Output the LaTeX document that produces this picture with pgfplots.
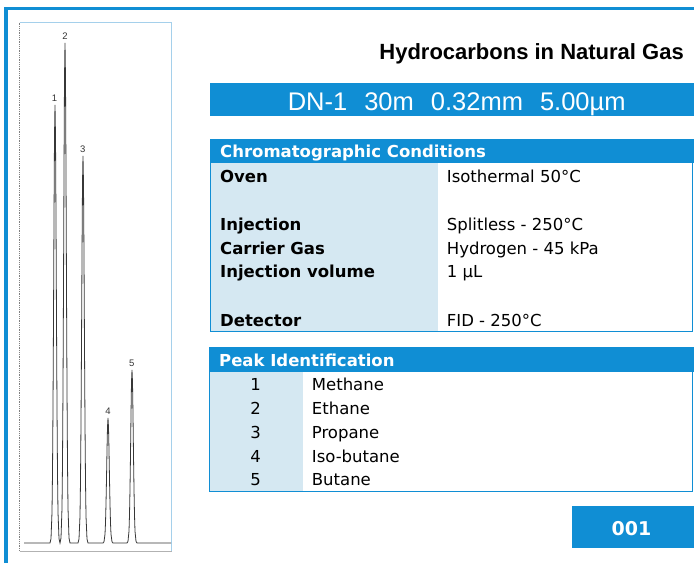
\documentclass[border=0pt]{standalone}
\usepackage{pgfplots}
\pgfplotsset{compat=1.18}
\usepackage{fontspec}
\setmainfont{DejaVu Sans}
\newfontfamily\lib{Liberation Sans}
\definecolor{mainblue}{RGB}{16,142,212}
\definecolor{lightcol}{RGB}{213,232,242}
\definecolor{lightline}{RGB}{165,208,235}
\definecolor{peakcol}{RGB}{55,55,55}
\newcommand{\fs}[1]{\fontsize{#1}{#1}\selectfont}
\begin{document}
\begin{tikzpicture}
\begin{scope}[x=1pt,y=-1pt]
\path[use as bounding box] (0,0) rectangle (694,563);
% outer frame
\fill[mainblue] (4,7) rectangle (694,10);
\fill[mainblue] (4,7) rectangle (7.5,563);
% chromatogram frame
\draw[lightline, line width=1pt] (19.5,22.5) -- (171.7,22.5) -- (171.7,551);
\draw[gray, densely dotted, line width=0.8pt] (19.5,22.5) -- (19.5,551);
\draw[gray!60, line width=1pt] (19.5,551) -- (171.7,551);
% title
\node[anchor=base east, inner sep=0, font=\lib\bfseries\fs{22}] at (684,59.3) {Hydrocarbons in Natural Gas};
% column band
\fill[mainblue] (210,82.7) rectangle (694,115.7);
\node[anchor=base, inner sep=0, text=white, font=\lib\fs{25.5}] at (456.7,110) {DN-1\hspace{17pt}30m\hspace{17pt}0.32mm\hspace{17pt}5.00µm};
% conditions table
\fill[mainblue] (210,139.3) rectangle (694,162.7);
\fill[lightcol] (210,162.7) rectangle (437.7,331);
\draw[mainblue, line width=1pt] (210,162.7) rectangle (692.7,331);
\node[anchor=base west, inner sep=0, text=white, font=\bfseries\fs{16.5}] at (220,157.7) {Chromatographic Conditions};
\begin{scope}[every node/.style={anchor=base west, inner sep=0, font=\fs{16.5}}]
\node[font=\bfseries\fs{16.5}] at (220,182.3) {Oven};
\node[font=\bfseries\fs{16.5}] at (220,230) {Injection};
\node[font=\bfseries\fs{16.5}] at (220,254) {Carrier Gas};
\node[font=\bfseries\fs{16.5}] at (220,277.7) {Injection volume};
\node[font=\bfseries\fs{16.5}] at (220,326) {Detector};
\node at (446.7,182.3) {Isothermal 50°C};
\node at (446.7,230) {Splitless - 250°C};
\node at (446.7,254) {Hydrogen - 45 kPa};
\node at (446.7,277.7) {1 µL};
\node at (446.7,326) {FID - 250°C};
\end{scope}
% peak table
\fill[mainblue] (209.3,347.3) rectangle (694,371.7);
\fill[lightcol] (209.3,371.7) rectangle (302.7,491);
\draw[mainblue, line width=1pt] (209.3,371.7) rectangle (692.7,491);
\node[anchor=base west, inner sep=0, text=white, font=\bfseries\fs{16.5}] at (219,366.7) {Peak Identification};
\begin{scope}[every node/.style={inner sep=0, font=\fs{16.5}}]
\node[anchor=base] at (255.7,390) {1};
\node[anchor=base] at (255.7,414) {2};
\node[anchor=base] at (255.7,438) {3};
\node[anchor=base] at (255.7,462) {4};
\node[anchor=base] at (255.7,485.7) {5};
\node[anchor=base west] at (311.7,390) {Methane};
\node[anchor=base west] at (311.7,414) {Ethane};
\node[anchor=base west] at (311.7,438) {Propane};
\node[anchor=base west] at (311.7,462) {Iso-butane};
\node[anchor=base west] at (311.7,485.7) {Butane};
\end{scope}
% code box
\fill[mainblue] (572,506) rectangle (694,547.7);
\node[anchor=base, inner sep=0, text=white, font=\bfseries\fs{19}] at (631.5,535) {001};
\end{scope}
\begin{axis}[at={(20pt,-551pt)}, anchor=south west, scale only axis,
  width=151.7pt, height=528.5pt, xmin=20, xmax=171.7, ymin=-8, ymax=520.5,
  axis line style={draw=none}, ticks=none, clip=false]
\addplot[peakcol, line width=0.8pt, mark=none] coordinates {
(24,0)(50,0)(51,4.4)(52,30.7)(52.5,70)(53,136)(53.5,223)(54,324)(54.5,407)(55,438)(55.5,407)(56,324)(56.5,223)(57,136)(57.5,70)(58,30.7)(59,4.4)
(60,0)(61,5)(62,35)(62.5,80)(63,155)(63.5,255)(64,370)(64.5,465)(65,500)(65.5,465)(66,370)(66.5,255)(67,155)(67.5,80)(68,35)(69,5)(70,0)
(78,0)(79,3.9)(80,27)(80.5,62)(81,120)(81.5,197)(82,286)(82.5,360)(83,387)(83.5,360)(84,286)(84.5,197)(85,120)(85.5,62)(86,27)(87,3.9)(88,0)
(103,0)(104,1.25)(105,8.8)(105.5,20)(106,39)(106.5,64)(107,92.5)(107.5,116)(108,125)(108.5,116)(109,92.5)(109.5,64)(110,39)(110.5,20)(111,8.8)(112,1.25)(113,0)
(127,0)(128,1.7)(129,12)(129.5,28)(130,54)(130.5,88)(131,128)(131.5,161)(132,173)(132.5,161)(133,128)(133.5,88)(134,54)(134.5,28)(135,12)(136,1.7)(137,0)
(171,0)};
\addplot[draw=none, mark=none, nodes near coords, point meta=explicit symbolic,
  nodes near coords style={anchor=south, inner sep=1pt, yshift=2.5pt, text=black!80, font=\lib\fs{9.5}}]
  table[meta=l] {
x y l
54.5 438 1
65 500 2
82.8 387 3
108 125 4
131.7 173 5
};
\end{axis}
\end{tikzpicture}
\end{document}
